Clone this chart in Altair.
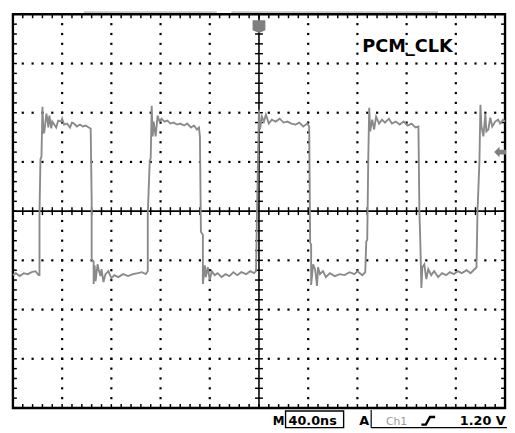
import altair as alt
import pandas as pd

# ---- trace of Ch1 (time in ns, voltage in V, 1 V/div, 40 ns/div) ----
lead_t = [0, 2.4, 5.6, 8.8, 12.0, 15.2, 18.4, 20.8, 21.6]
lead_v = [-1.30, -1.26, -1.32, -1.26, -1.28, -1.24, -1.22, -1.30, -1.30]

c1_t = [21.6, 22.4, 23.2, 24.0, 24.8, 25.6, 27.2, 28.0, 28.8, 29.6,
        31.2, 32.0, 33.6, 35.2, 36.8, 39.2, 40.0, 41.6, 44.0, 46.4,
        48.0, 49.6, 52.0, 54.4, 56.8, 59.2, 61.6, 63.2,
        64.0, 64.0, 65.6, 65.6, 66.4, 67.2, 68.8, 69.6, 71.2, 72.0,
        73.6, 75.2, 77.6, 80.0, 82.4, 85.6, 89.6, 93.6, 97.6, 101.6,
        104.8, 108.0, 109.6]
c1_v = [-0.02, 1.06, 1.10, 2.12, 1.58, 1.62, 1.98, 1.86, 1.70, 1.94,
        1.68, 1.82, 1.76, 1.70, 1.84, 1.82, 1.88, 1.76, 1.78, 1.70,
        1.80, 1.78, 1.72, 1.76, 1.72, 1.74, 1.70, 1.68,
        0.22, -0.98, -1.02, -1.48, -1.10, -1.42, -1.08, -1.18, -1.32, -1.18,
        -1.44, -1.28, -1.22, -1.36, -1.30, -1.34, -1.28, -1.32, -1.28, -1.26,
        -1.24, -1.28, -1.22]

c2_t = [109.6, 111.2, 112.0, 112.8, 113.6, 114.4, 116.0, 117.6, 119.2, 120.8,
        123.2, 125.6, 128.0, 130.4, 133.6, 136.0, 139.2, 141.6, 144.8, 147.2,
        149.6, 151.2, 152.0,
        152.8, 154.4, 154.4, 156.0, 156.8, 158.4, 160.0, 161.6, 164.0, 166.4,
        169.6, 172.8, 176.0, 179.2, 182.4, 185.6, 189.6, 192.8, 196.0, 197.6]
c2_v = [-0.08, 1.02, 1.08, 2.14, 1.52, 1.82, 1.52, 1.94, 1.82, 1.88,
        1.82, 1.84, 1.78, 1.80, 1.76, 1.78, 1.74, 1.78, 1.70, 1.74,
        1.66, 1.70, 1.52,
        -0.42, -0.48, -1.48, -1.10, -1.34, -1.14, -1.40, -1.22, -1.30, -1.26,
        -1.34, -1.28, -1.32, -1.24, -1.30, -1.24, -1.28, -1.22, -1.26, -1.22]

c3_t = [198.4, 199.2, 200.0, 200.8, 202.4, 204.0, 205.6, 208.0, 210.4, 213.6,
        216.8, 220.0, 223.2, 226.4, 229.6, 232.8, 236.0, 239.2, 240.8,
        241.6, 242.4, 242.4, 244.0, 245.6, 247.2, 248.0, 249.6, 252.0, 254.4,
        257.6, 261.6, 265.6, 269.6, 273.6, 277.6, 280.0, 284.0, 286.4]
c3_v = [-0.02, 1.02, 2.06, 1.66, 1.92, 1.82, 1.96, 1.78, 1.86, 1.82,
        1.88, 1.80, 1.82, 1.78, 1.76, 1.80, 1.72, 1.78, 1.72,
        -0.64, -0.68, -1.50, -1.08, -1.18, -1.52, -1.14, -1.28, -1.22, -1.34,
        -1.26, -1.32, -1.28, -1.30, -1.24, -1.28, -1.22, -1.30, -1.24]

c4_t = [287.2, 288.0, 288.8, 289.6, 290.4, 292.0, 293.6, 295.2, 297.6, 300.0,
        302.4, 305.6, 308.0, 311.2, 314.4, 317.6, 320.8, 324.0, 327.2, 329.6,
        330.4, 331.2, 332.0, 332.8, 334.4, 336.0, 337.6, 340.0, 342.4, 345.6,
        348.8, 352.0, 355.2, 358.4, 361.6, 364.8, 368.8, 372.0, 375.2, 376.8]
c4_v = [-0.62, -0.58, 1.02, 2.10, 1.62, 1.86, 1.66, 1.92, 1.78, 1.86,
        1.80, 1.88, 1.78, 1.82, 1.76, 1.82, 1.74, 1.78, 1.70, 1.72,
        0.00, -0.68, -1.56, -1.14, -1.08, -1.38, -1.18, -1.30, -1.22, -1.34,
        -1.26, -1.30, -1.24, -1.28, -1.22, -1.26, -1.20, -1.26, -1.18, -1.14]

c5_t = [377.6, 379.2, 380.0, 380.8, 382.4, 384.0, 384.8, 386.4, 388.0, 389.6,
        392.0, 394.4, 396.0, 398.4, 400.0]
c5_v = [-0.02, 1.02, 2.16, 1.72, 1.52, 1.98, 1.62, 1.66, 1.90, 1.72,
        1.82, 1.86, 1.78, 1.86, 1.82]

# ---- readouts ----
signal_label = "PCM_CLK"
timebase_label = "40.0ns"
trigger_source = "Ch1"
trigger_level = 1.20
trigger_label = "1.20 V"

# ---- graticule (10 x 8 divisions, 5 minor per division) ----
T0, T1, V0, V1 = 0, 400, -4, 4
minor_t = [8 * k for k in range(1, 50)]
minor_v = [round(-4 + 0.2 * k, 2) for k in range(1, 40)]
major_t = [40 * k for k in range(1, 10) if k != 5]
major_v = [-3, -2, -1, 1, 2, 3]

trace_t = lead_t + c1_t + c2_t + c3_t + c4_t + c5_t
trace_v = lead_v + c1_v + c2_v + c3_v + c4_v + c5_v
trace = pd.DataFrame({"t": trace_t, "v": trace_v, "i": range(len(trace_t))})

dots = [(t, v) for t in major_t for v in minor_v if v != 0] + \
       [(t, v) for v in major_v for t in minor_t if t != 200]
dots = pd.DataFrame(dots, columns=["t", "v"])

ticks = []
for t in minor_t:
    if t != 200:
        ticks.append((t, t, -0.08, 0.08))
    ticks.append((t, t, 4, 3.92))
    ticks.append((t, t, -4, -3.92))
for v in minor_v:
    if v != 0:
        ticks.append((196.8, 203.2, v, v))
    ticks.append((0, 3.2, v, v))
    ticks.append((400, 396.8, v, v))
ticks = pd.DataFrame(ticks, columns=["t", "t2", "v", "v2"])

center = pd.DataFrame({"t": [200, 0], "t2": [200, 400], "v": [-4, 0], "v2": [4, 0]})

xs = alt.Scale(domain=[T0, T1], nice=False, zero=False)
ys = alt.Scale(domain=[V0, V1], nice=False, zero=False)
X = alt.X("t:Q", scale=xs, axis=None)
Y = alt.Y("v:Q", scale=ys, axis=None)

dot_layer = alt.Chart(dots).mark_square(size=5, color="black", opacity=1).encode(x=X, y=Y)
tick_layer = alt.Chart(ticks).mark_rule(color="black", strokeWidth=1.5).encode(
    x=X, x2="t2:Q", y=Y, y2="v2:Q")
center_layer = alt.Chart(center).mark_rule(color="black", strokeWidth=1.6).encode(
    x=X, x2="t2:Q", y=Y, y2="v2:Q")

trace_layer = alt.Chart(trace).mark_line(color="#8a8a8a", strokeWidth=1.9,
                                         strokeJoin="miter").encode(
    x=X, y=Y, order=alt.Order("i:Q"))

# record-length bar above graticule
bar = pd.DataFrame({"t": [57.6, 177.6], "t2": [165.6, 345.6], "v": [4.045, 4.045]})
bar_layer = alt.Chart(bar).mark_rule(color="#c4c4c4", strokeWidth=1.6).encode(
    x=X, x2="t2:Q", y=Y)

# trigger position marker (top) and trigger level marker (right)
trig_pos = pd.DataFrame({"t": [200], "v": [3.75]})
trig_pos_layer = alt.Chart(trig_pos).mark_point(
    shape="M-1,-1L1,-1L1,0.55L0,1L-1,0.55Z", size=169, filled=True,
    color="#7f7f7f", opacity=1).encode(x=X, y=Y)
trig_lvl = pd.DataFrame({"t": [396], "v": [trigger_level]})
trig_lvl_layer = alt.Chart(trig_lvl).mark_point(
    shape="M-1,0L-0.1,-0.9L-0.1,-0.4L1,-0.4L1,0.4L-0.1,0.4L-0.1,0.9Z", size=144,
    filled=True, color="#7f7f7f", opacity=1).encode(x=X, y=Y)

label_df = pd.DataFrame({"t": [284.0], "v": [3.23], "txt": [signal_label]})
label_layer = alt.Chart(label_df).mark_text(
    align="left", baseline="alphabetic", font="DejaVu Sans", fontWeight="bold",
    fontSize=18, color="black").encode(x=X, y=Y, text="txt:N")

# bottom status line
bold_txt = pd.DataFrame({"t": [220.8, 224.0, 281.6, 363.2],
                         "v": [-4.34, -4.34, -4.34, -4.34],
                         "txt": ["M", timebase_label, "A", trigger_label],
                         "al": ["right", "left", "left", "left"]})
bold_r = alt.Chart(bold_txt[bold_txt.al == "right"]).mark_text(
    align="right", baseline="alphabetic", font="DejaVu Sans", fontWeight="bold",
    fontSize=12, color="black").encode(x=X, y=Y, text="txt:N")
bold_l = alt.Chart(bold_txt[bold_txt.al == "left"]).mark_text(
    align="left", baseline="alphabetic", font="DejaVu Sans", fontWeight="bold",
    fontSize=13, color="black").encode(x=X, y=Y, text="txt:N")
src_df = pd.DataFrame({"t": [303.2], "v": [-4.34], "txt": [trigger_source]})
src_layer = alt.Chart(src_df).mark_text(
    align="left", baseline="alphabetic", font="DejaVu Sans", fontSize=11,
    color="#9a9a9a").encode(x=X, y=Y, text="txt:N")

box = pd.DataFrame({"t": [221.6], "t2": [268.8], "v": [-4.06], "v2": [-4.40]})
box_layer = alt.Chart(box).mark_rect(fill=None, stroke="black", strokeWidth=1.4).encode(
    x=X, x2="t2:Q", y=Y, y2="v2:Q")
lbr = pd.DataFrame({"t": [291.2, 291.2], "t2": [291.2, 402], "v": [-4.04, -4.40],
                    "v2": [-4.40, -4.40]})
lbr_layer = alt.Chart(lbr).mark_rule(color="black", strokeWidth=1.2).encode(
    x=X, x2="t2:Q", y=Y, y2="v2:Q")
slope = pd.DataFrame({"t": [337.6], "v": [-4.26]})
slope_layer = alt.Chart(slope).mark_point(
    shape="M-1,0.55L-0.35,0.55L0.25,-0.55L1,-0.55", size=196, filled=False,
    color="black", strokeWidth=2.4, opacity=1).encode(x=X, y=Y)

chart = alt.layer(
    bar_layer, dot_layer, center_layer, tick_layer, trace_layer,
    trig_pos_layer, trig_lvl_layer, label_layer,
    bold_r, bold_l, src_layer, box_layer, lbr_layer, slope_layer
).properties(
    width=500, height=400,
    autosize=alt.AutoSizeParams(type="none"),
    padding={"left": 5, "top": 3, "right": 2, "bottom": 22},
    background="white",
).configure_view(stroke="black", strokeWidth=2.4)

chart.save("out.html", embed_options={"renderer": "svg", "actions": False})
